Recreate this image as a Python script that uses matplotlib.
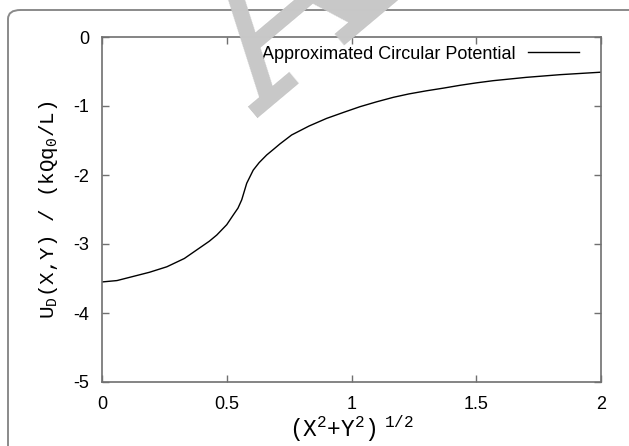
import numpy as np
import matplotlib
matplotlib.use('Agg')
import matplotlib.pyplot as plt
from matplotlib.patches import FancyBboxPatch

plt.rcParams['font.family'] = ['Liberation Sans', 'DejaVu Sans']
plt.rcParams['mathtext.fontset'] = 'custom'
plt.rcParams['mathtext.rm'] = 'Liberation Mono'
plt.rcParams['axes.unicode_minus'] = False

# curve
r = [0.0, 0.06, 0.125, 0.19, 0.26, 0.33, 0.39, 0.43, 0.46, 0.5, 0.526,
     0.545, 0.56, 0.58, 0.606, 0.63, 0.66, 0.69, 0.713, 0.76, 0.83, 0.9,
     0.97, 1.034, 1.1, 1.168, 1.23, 1.3, 1.37, 1.435, 1.5, 1.568, 1.70,
     1.836, 2.0]
u = [-3.55, -3.53, -3.47, -3.41, -3.33, -3.21, -3.06, -2.96, -2.87, -2.72,
     -2.58, -2.48, -2.36, -2.12, -1.93, -1.82, -1.71, -1.62, -1.55, -1.42,
     -1.29, -1.18, -1.09, -1.01, -0.94, -0.874, -0.825, -0.78, -0.74, -0.70,
     -0.665, -0.633, -0.585, -0.546, -0.51]
xticks = [0, 0.5, 1, 1.5, 2]
yticks = [0, -1, -2, -3, -4, -5]

fig = plt.figure(figsize=(6.29, 4.46), dpi=100)

# outer rounded frame
frame = FancyBboxPatch((8/629, -0.2), 1.2, 1 - 10/446 + 0.2,
                       boxstyle='round,pad=0,rounding_size=0.02',
                       transform=fig.transFigure, fill=False,
                       edgecolor='#8a8a8a', linewidth=1.4, zorder=0)
fig.patches.append(frame)

# watermark
fig.text(260/629, 1 - 118/446, 'A', fontsize=180, family='DejaVu Serif',
         weight='bold', color='#c8c8c8', rotation=40, rotation_mode='anchor',
         ha='left', va='baseline', zorder=0)

ax = fig.add_axes([102/629, 1 - 382/446, 499/629, 345/446])
ax.patch.set_alpha(0)
ax.plot(r, u, color='black', linewidth=1.0, label='Approximated Circular Potential')

ax.set_xlim(0, 2)
ax.set_ylim(-5, 0)
ax.set_xticks(xticks)
ax.set_xticklabels(['0', '0.5', '1', '1.5', '2'])
ax.set_yticks(yticks)
ax.tick_params(direction='in', top=True, right=True, length=5, width=1,
               color='#707070', labelsize=13)
ax.tick_params(axis='x', pad=10)
ax.tick_params(axis='y', pad=9)
for s in ax.spines.values():
    s.set_color('#707070')
    s.set_linewidth(1.2)

ax.set_xlabel(r'(X$^\mathrm{2}$+Y$^\mathrm{2}$)$^\mathrm{\ 1/2}$',
              family='Liberation Mono', fontsize=16.5, labelpad=0)
ax.set_ylabel(r'U$_\mathrm{D}$(X,Y) / (kQq$_\mathrm{0}$/L)',
              family='Liberation Mono', fontsize=15, labelpad=10)

ax.legend(loc='upper right', frameon=False, markerfirst=False, fontsize=13,
          handlelength=2.8, handletextpad=0.7, borderpad=0, borderaxespad=0,
          bbox_to_anchor=(0.956, 0.975))

fig.savefig('out.png', dpi=100)
